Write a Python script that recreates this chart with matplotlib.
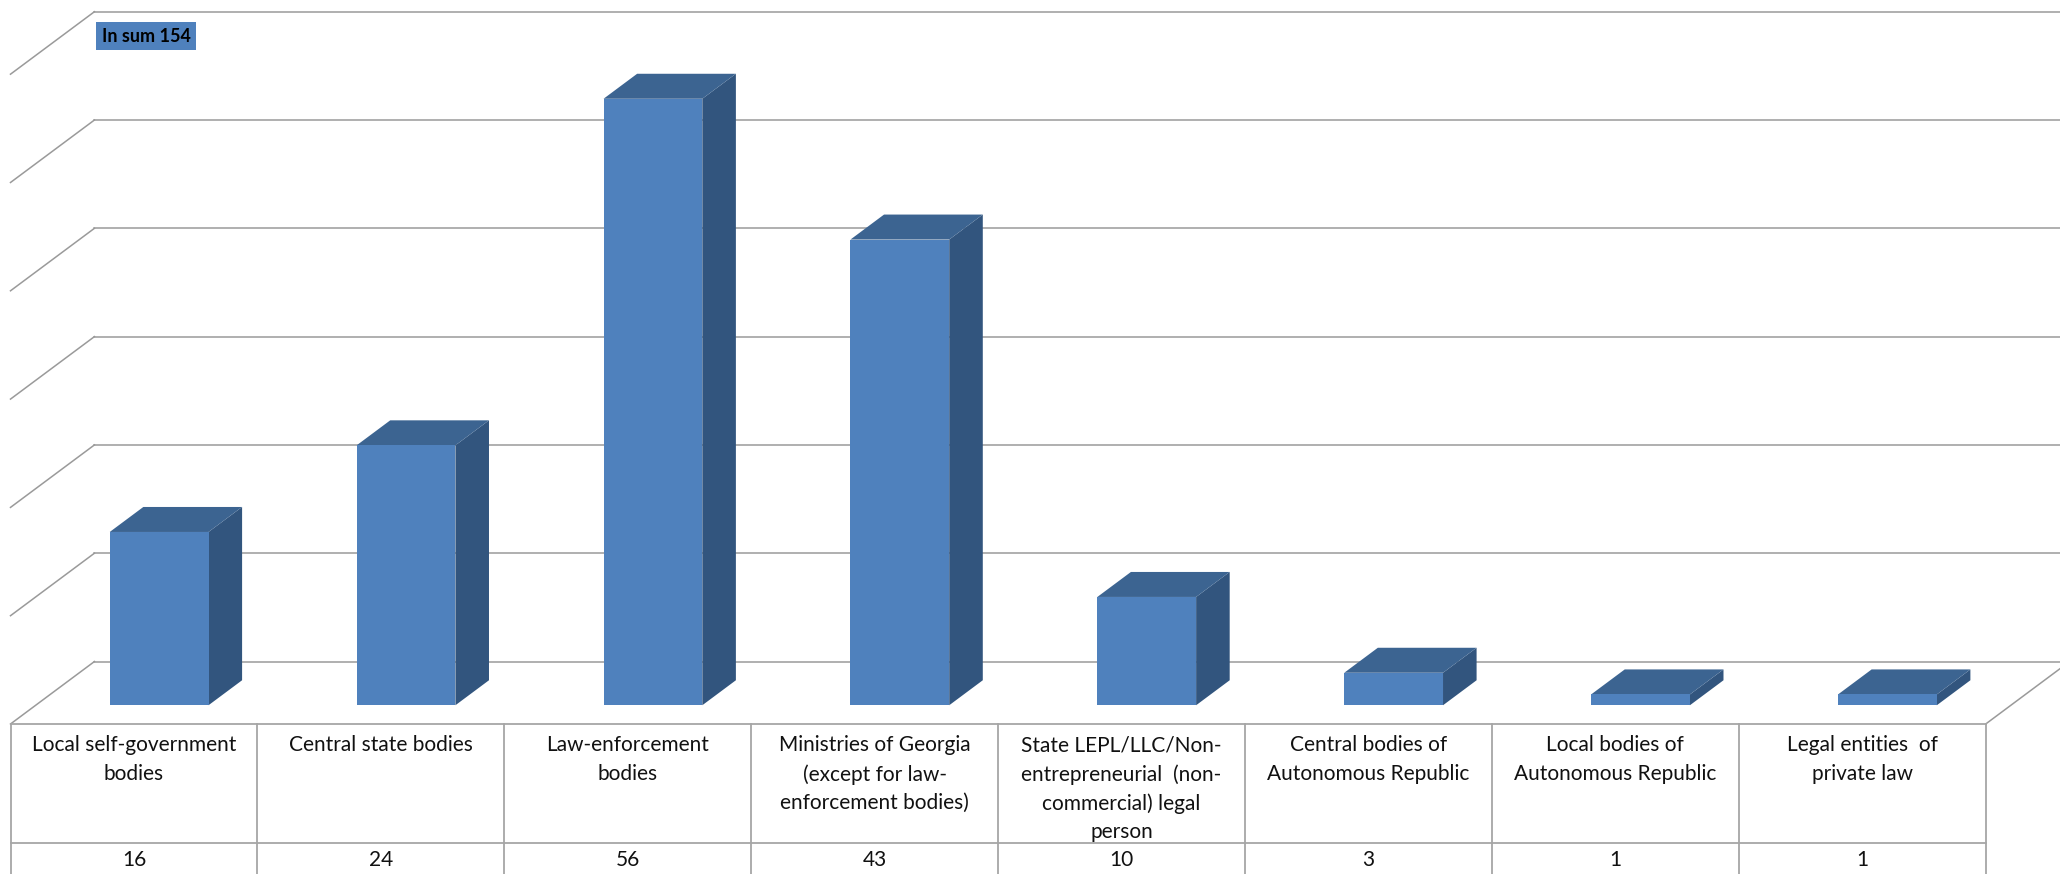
import numpy as np
import matplotlib.pyplot as plt
from matplotlib.patches import Polygon, Rectangle

categories = [
    "Local self-government\nbodies",
    "Central state bodies",
    "Law-enforcement\nbodies",
    "Ministries of Georgia\n(except for law-\nenforcement bodies)",
    "State LEPL/LLC/Non-\nentrepreneurial  (non-\ncommercial) legal\nperson",
    "Central bodies of\nAutonomous Republic",
    "Local bodies of\nAutonomous Republic",
    "Legal entities  of\nprivate law",
]
values = [16, 24, 56, 43, 10, 3, 1, 1]
total_label = "In sum 154"
grid_ticks = [0, 10, 20, 30, 40, 50, 60]

# oblique projection: depth d in [0, 1] (front of floor -> back wall)
DX = 0.34     # category units
DY = 5.77     # value units
BAR_W = 0.4
BAR_D0, BAR_D1 = 0.3, 0.7

front_c = '#4f81bd'
top_c = '#3c6491'
side_c = '#32557e'
grid_c = '#9a9a9a'
table_c = '#a6a6a6'


def proj(x, v, d):
    return (x + d * DX, v + d * DY)


fig = plt.figure(figsize=(20.6, 8.74), dpi=100)
ax = fig.add_axes([0, 0, 1, 1])
left = -0.5 - 10.5 / 246.9
ax.set_xlim(left, left + 2060 / 246.9)
ax.set_ylim(-13.85, 66.85)
ax.axis('off')

n = len(values)
x0, x1 = -0.5, n - 0.5

# back wall gridlines + left side wall diagonals
for g in grid_ticks:
    bx0, by = proj(x0, g, 1)
    bx1, _ = proj(x1, g, 1)
    ax.plot([bx0, bx1], [by, by], color=grid_c, lw=1.1, zorder=1)
    fx, fy = proj(x0, g, 0)
    ax.plot([fx, bx0], [fy, by], color=grid_c, lw=1.1, zorder=1)

# floor right edge
fx, fy = proj(x1, 0, 0)
bx, by = proj(x1, 0, 1)
ax.plot([fx, bx], [fy, by], color=grid_c, lw=1.1, zorder=1)

# bars
for i, v in enumerate(values):
    l, r = i - BAR_W / 2, i + BAR_W / 2
    front = [proj(l, 0, BAR_D0), proj(r, 0, BAR_D0), proj(r, v, BAR_D0), proj(l, v, BAR_D0)]
    side = [proj(r, 0, BAR_D0), proj(r, 0, BAR_D1), proj(r, v, BAR_D1), proj(r, v, BAR_D0)]
    top = [proj(l, v, BAR_D0), proj(r, v, BAR_D0), proj(r, v, BAR_D1), proj(l, v, BAR_D1)]
    ax.add_patch(Polygon(side, closed=True, fc=side_c, ec='none', zorder=3))
    ax.add_patch(Polygon(top, closed=True, fc=top_c, ec='none', zorder=3))
    ax.add_patch(Polygon(front, closed=True, fc=front_c, ec='none', zorder=4))

# data table
row_y = -11.0
bottom_y = -14.5
ax.plot([x0, x1], [0, 0], color=table_c, lw=1.3, zorder=2)
ax.plot([x0, x1], [row_y, row_y], color=table_c, lw=1.3, zorder=2)
for k in range(n + 1):
    ax.plot([x0 + k, x0 + k], [0, bottom_y], color=table_c, lw=1.3, zorder=2)

for i, (lab, v) in enumerate(zip(categories, values)):
    ax.text(i, -1.05, lab, ha='center', va='top', fontsize=15, family='Lato',
            linespacing=1.52, color='#111111')
    ax.text(i, -12.55, str(v), ha='center', va='center', fontsize=15,
            family='Lato', color='#111111')

# total label box
ax.text(-0.13, 63.5, total_label, ha='left', va='center', fontsize=13,
        family='Lato', fontweight='bold', color='black',
        bbox=dict(boxstyle='square,pad=0.3', fc=front_c, ec='none'))

fig.savefig('out.png', dpi=100)
